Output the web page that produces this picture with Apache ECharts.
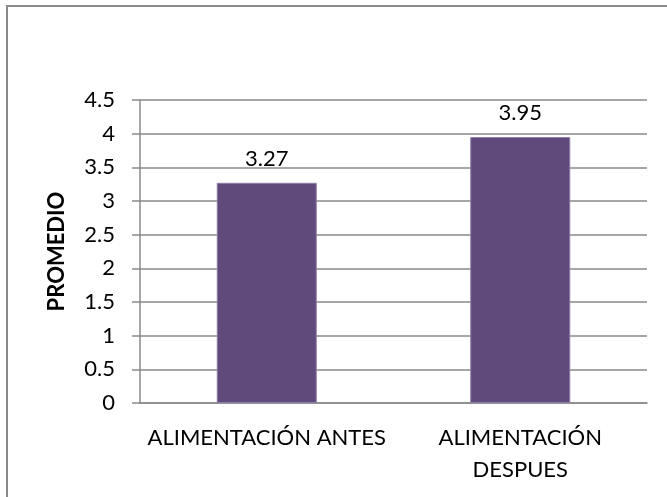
<!DOCTYPE html>
<html>
<head>
<meta charset="utf-8">
<script src="https://cdn.jsdelivr.net/npm/echarts@6/dist/echarts.min.js"></script>
<style>
  html, body { margin: 0; padding: 0; background: #fff; }
  #chart { width: 667px; height: 497px; }
</style>
</head>
<body>
<div id="chart"></div>
<script>
var categories = ['ALIMENTACIÓN ANTES', 'ALIMENTACIÓN\nDESPUES'];
var promedios = [3.27, 3.95];

var chartDom = document.getElementById('chart');
var myChart = echarts.init(chartDom);
var font = 'Lato, "Open Sans", sans-serif';

var option = {
    animation: false,
    graphic: [
        {
            type: 'rect',
            shape: { x: 7, y: 6, width: 800, height: 600 },
            style: { fill: 'none', stroke: '#8a8a8a', lineWidth: 2 }
        }
    ],
    grid: {
        left: 140,
        right: 20,
        top: 100,
        bottom: 94
    },
    xAxis: {
        type: 'category',
        data: categories,
        axisLine: { lineStyle: { color: '#8a8a8a', width: 1.5 } },
        axisTick: { show: false },
        axisLabel: {
            color: '#000',
            fontFamily: font,
            fontSize: 22,
            lineHeight: 32,
            margin: 19,
            interval: 0
        }
    },
    yAxis: {
        type: 'value',
        min: 0,
        max: 4.5,
        interval: 0.5,
        name: 'PROMEDIO',
        nameLocation: 'middle',
        nameGap: 72,
        nameTextStyle: {
            color: '#000',
            fontFamily: font,
            fontWeight: 'bold',
            fontSize: 22
        },
        axisLine: { show: true, lineStyle: { color: '#8a8a8a', width: 1.5 } },
        axisTick: { show: true, length: 8, lineStyle: { color: '#8a8a8a', width: 1.5 } },
        splitLine: { lineStyle: { color: '#8a8a8a', width: 1.5 } },
        axisLabel: {
            color: '#000',
            fontFamily: font,
            fontSize: 22,
            margin: 25
        }
    },
    series: [
        {
            type: 'bar',
            data: promedios,
            barWidth: 100,
            itemStyle: { color: '#604a7b', borderColor: '#8e7ca5', borderWidth: 1 },
            label: {
                show: true,
                position: 'top',
                distance: 13,
                color: '#000',
                fontFamily: font,
                fontSize: 22
            }
        }
    ]
};

option && myChart.setOption(option);

window.addEventListener('resize', function () {
    myChart.resize();
});
</script>
</body>
</html>
